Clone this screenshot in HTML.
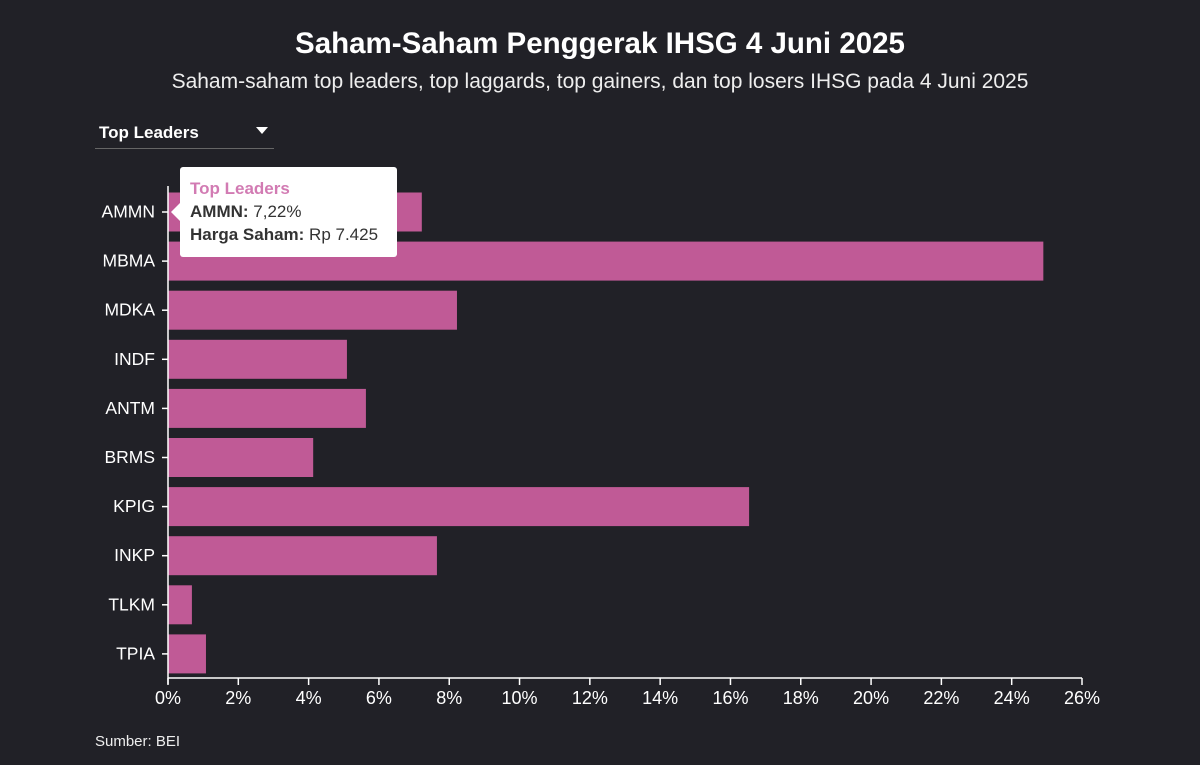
<!DOCTYPE html>
<html><head><meta charset="utf-8"><style>
body{margin:0;width:1200px;height:765px;background:#212127;font-family:"Liberation Sans",sans-serif;color:#fff;overflow:hidden;position:relative}
.t{position:absolute;left:0;width:1200px;text-align:center}
</style></head><body>
<div class="t" style="top:27px;font-size:29.5px;font-weight:bold">Saham-Saham Penggerak IHSG 4 Juni 2025</div>
<div class="t" style="top:70px;font-size:21px;color:#eee">Saham-saham top leaders, top laggards, top gainers, dan top losers IHSG pada 4 Juni 2025</div>
<div style="position:absolute;left:95px;top:120px;width:179px;height:28px;border-bottom:1px solid #666">
<span style="position:absolute;left:4px;top:3px;font-size:17px;font-weight:bold">Top Leaders</span>
<span style="position:absolute;right:6px;top:7px;width:0;height:0;border-left:6px solid transparent;border-right:6px solid transparent;border-top:7px solid #fff"></span></div>
<svg id="c" width="1200" height="765" style="position:absolute;left:0;top:0"></svg>
<div style="position:absolute;left:180px;top:167px;width:217px;height:90px;background:#fff;border-radius:3px;color:#333;font-size:17px;line-height:23px;padding:10px 0 0 10px;box-sizing:border-box">
<div style="position:absolute;left:-9px;top:36px;width:0;height:0;border-top:9px solid transparent;border-bottom:9px solid transparent;border-right:9px solid #fff"></div>
<div style="color:#d27bb3;font-weight:bold">Top Leaders</div>
<div><b>AMMN:</b> 7,22%</div>
<div><b>Harga Saham:</b> Rp 7.425</div></div>
<div style="position:absolute;left:95px;top:733px;font-size:15px;color:#eee">Sumber: BEI</div>
<script>
const categories=["AMMN","MBMA","MDKA","INDF","ANTM","BRMS","KPIG","INKP","TLKM","TPIA"];
const values=[7.22,24.9,8.22,5.09,5.63,4.13,16.53,7.65,0.68,1.08];
const ticks=[0,2,4,6,8,10,12,14,16,18,20,22,24,26];
const NS="http://www.w3.org/2000/svg",svg=document.getElementById('c');
const x=v=>168+v*(1082-168)/26, y=i=>192.5+i*49.1;
function mk(t,a){const e=document.createElementNS(NS,t);for(const k in a)e.setAttribute(k,a[k]);svg.appendChild(e);return e;}
categories.forEach((c,i)=>{
 const r=mk('rect',{x:x(0),y:y(i),width:x(values[i])-x(0),height:39,fill:'#c05a96'});
 
 
 mk('line',{x1:162,x2:168,y1:y(i)+19.5,y2:y(i)+19.5,stroke:'#fff','stroke-width':1.5});
 const t=mk('text',{x:155,y:y(i)+25,'text-anchor':'end',fill:'#fff','font-size':17.5,'font-family':'Liberation Sans'});
 t.textContent=c;
 
 
});
mk('line',{x1:168,x2:168,y1:186,y2:684,stroke:'#fff','stroke-width':1.5});
mk('line',{x1:168,x2:1082,y1:678,y2:678,stroke:'#fff','stroke-width':1.5});
ticks.forEach(v=>{
 mk('line',{x1:x(v),x2:x(v),y1:678,y2:685,stroke:'#fff','stroke-width':1.5});
 const t=mk('text',{x:x(v),y:704,'text-anchor':'middle',fill:'#fff','font-size':18,'font-family':'Liberation Sans'});
 t.textContent=v+'%';
 
 
});
</script>
</body></html>
